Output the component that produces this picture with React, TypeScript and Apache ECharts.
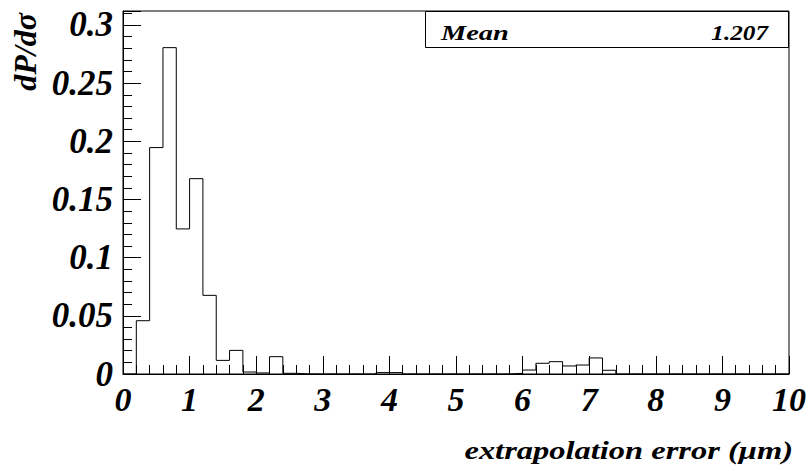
import React, { useEffect, useRef } from "react";
import * as echarts from "echarts";

// Histogram: 50 bins of width 0.2 from 0 to 10
const binWidth = 0.2;
const binValues = [
  0, 0.0458, 0.1946, 0.2805, 0.1247, 0.1679, 0.0676, 0.0117, 0.0203, 0.0017,
  0.0009, 0.0149, 0.0006, 0, 0, 0, 0, 0, 0, 0.0012,
  0.0012, 0, 0, 0, 0, 0, 0, 0, 0, 0.0006,
  0.0034, 0.0092, 0.0106, 0.0069, 0.0077, 0.0138, 0.0032, 0, 0, 0,
  0, 0, 0, 0, 0, 0, 0, 0, 0, 0,
];
const xTicks = [0, 1, 2, 3, 4, 5, 6, 7, 8, 9, 10];
const yTickLabels = ["0", "0.05", "0.1", "0.15", "0.2", "0.25", "0.3"];
const statLabel = "Mean";
const statValue = "1.207";
const xTitle = "extrapolation error (\u03bcm)";
const yTitle = "dP/d\u03c3";

const FONT = "'Liberation Serif', 'Times New Roman', serif";

export default function App() {
  const ref = useRef<HTMLDivElement>(null);
  useEffect(() => {
    if (!ref.current) return;
    const chart = echarts.init(ref.current, null, { renderer: "svg" });
    const data: [number, number][] = binValues.map((v, i) => [
      +(i * binWidth).toFixed(2),
      v,
    ]);
    data.push([xTicks[xTicks.length - 1], 0]);
    chart.setOption({
      animation: false,
      backgroundColor: "#fff",
      grid: {
        left: 123,
        right: 22,
        top: 11,
        bottom: 97,
        show: true,
        borderColor: "#000",
        borderWidth: 1,
        backgroundColor: "transparent",
      },
      xAxis: {
        type: "value",
        min: xTicks[0],
        max: xTicks[xTicks.length - 1],
        interval: 1,
        axisLine: { show: true, lineStyle: { color: "#000", width: 1 } },
        axisTick: { show: true, inside: true, length: 18, lineStyle: { color: "#000" } },
        minorTick: { show: true, splitNumber: 5, length: 9, lineStyle: { color: "#000" } },
        splitLine: { show: false },
        axisLabel: {
          margin: 8,
          fontFamily: FONT,
          fontStyle: "italic",
          fontWeight: "bold",
          fontSize: 34,
          color: "#000",
          showMinLabel: true,
          showMaxLabel: true,
          formatter: (v: number) => String(v),
        },
      },
      yAxis: {
        type: "value",
        min: 0,
        max: 0.312,
        interval: 0.05,
        axisLine: { show: true, lineStyle: { color: "#000", width: 1 } },
        axisTick: { show: true, inside: true, length: 18, lineStyle: { color: "#000" } },
        minorTick: { show: true, splitNumber: 5, length: 9, lineStyle: { color: "#000" } },
        splitLine: { show: false },
        axisLabel: {
          margin: 10,
          fontFamily: FONT,
          fontStyle: "italic",
          fontWeight: "bold",
          fontSize: 35,
          color: "#000",
          showMaxLabel: false,
          formatter: (v: number) => {
            const idx = Math.round(v / 0.05);
            return yTickLabels[idx] ?? "";
          },
        },
      },
      series: [
        {
          type: "line",
          step: "end",
          data,
          symbol: "none",
          lineStyle: { color: "#000", width: 1 },
          silent: true,
        },
      ],
      graphic: [
        {
          type: "rect",
          shape: { x: 425.5, y: 11.5, width: 363, height: 36 },
          style: { fill: "#fff", stroke: "#000", lineWidth: 1 },
          z: 10,
        },
        {
          type: "text",
          x: 441,
          y: 33,
          scaleX: 1.35,
          style: {
            text: statLabel,
            font: `italic bold 21px ${FONT}`,
            fill: "#000",
            textAlign: "left",
            textVerticalAlign: "middle",
          },
          z: 11,
        },
        {
          type: "text",
          x: 768,
          y: 33,
          scaleX: 1.2,
          style: {
            text: statValue,
            font: `italic bold 21px ${FONT}`,
            fill: "#000",
            textAlign: "right",
            textVerticalAlign: "middle",
          },
          z: 11,
        },
        {
          type: "text",
          x: 793,
          y: 450,
          scaleX: 1.3,
          style: {
            text: xTitle,
            font: `italic bold 25px ${FONT}`,
            fill: "#000",
            textAlign: "right",
            textVerticalAlign: "middle",
          },
        },
        {
          type: "text",
          x: 25,
          y: 13,
          rotation: Math.PI / 2,
          style: {
            text: yTitle,
            font: `italic bold 32px ${FONT}`,
            fill: "#000",
            textAlign: "right",
            textVerticalAlign: "middle",
          },
        },
      ],
    });
    return () => chart.dispose();
  }, []);
  return (
    <div
      ref={ref}
      style={{ position: "fixed", left: 0, top: 0, width: 811, height: 471 }}
    />
  );
}
